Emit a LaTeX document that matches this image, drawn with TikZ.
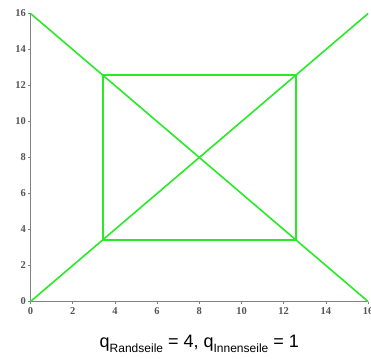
\documentclass[tikz,border=0pt]{standalone}
\usepackage{fontspec}
\setmainfont{Liberation Serif}
\newfontfamily\capfont{Liberation Sans}
\definecolor{seil}{RGB}{40,235,40}
\definecolor{axisgray}{RGB}{130,130,130}
\definecolor{labgray}{RGB}{85,85,85}
\begin{document}
\begin{tikzpicture}[x=21.1pt,y=18pt,
  axisline/.style={draw=axisgray,line width=1.3pt},
  tickmark/.style={draw=axisgray,line width=0.6pt},
  ticklab/.style={text=labgray,font=\fontsize{10.5}{10.5}\selectfont\bfseries,inner sep=0pt},
  rope/.style={draw=seil,line width=1.6pt,line join=miter},
  caption/.style={font=\capfont\fontsize{18}{18}\selectfont,inner sep=0pt}]
\useasboundingbox (-30.5pt,-56.5pt) rectangle (340.5pt,301.5pt);
% ropes
\coordinate (A) at (0,0);
\coordinate (B) at (16,16);
\coordinate (C) at (0,16);
\coordinate (D) at (16,0);
\coordinate (SQa) at (3.43,3.43);
\coordinate (SQc) at (12.57,12.57);
% axes
\coordinate (O) at (0,0);
\coordinate (XE) at (16,0);
\coordinate (YE) at (0,16);
\draw[axisline] (O) -- (XE);
\draw[axisline] (O) -- (YE);
\foreach \k in {0,2,...,16} {
  \draw[tickmark] (\k,0) -- ++(0,-2.5pt);
  \draw[tickmark] (0,\k) -- ++(-2.5pt,0);
  \node[ticklab,anchor=east] (yl\k) at ([xshift=-4.5pt]0,\k) {\k};
  \node[ticklab,anchor=north] (xl\k) at ([yshift=-6pt]\k,0) {\k};
}
\draw[rope] (A) -- (B);
\draw[rope] (C) -- (D);
\draw[rope] (SQa) rectangle (SQc);
% caption
\node[caption,anchor=base] (cap) at ([yshift=-46pt]8,0) {q\raisebox{-4.5pt}{\fontsize{12}{12}\selectfont Randseile} = 4, q\raisebox{-4.5pt}{\fontsize{12}{12}\selectfont Innenseile} = 1};
\end{tikzpicture}
\end{document}
